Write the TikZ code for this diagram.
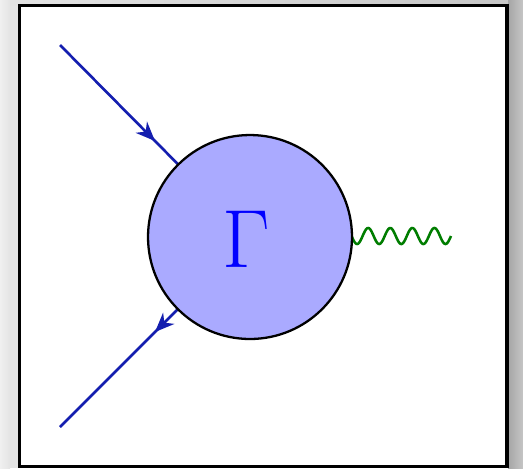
\documentclass[tikz,border=0pt]{standalone}
\usetikzlibrary{decorations.markings,arrows.meta}
\definecolor{bgcol}{RGB}{228,228,228}
\definecolor{fermcol}{RGB}{20,30,175}
\definecolor{blobcol}{RGB}{170,170,255}
\definecolor{photcol}{RGB}{0,125,0}
\tikzset{
  fermion/.style={draw=fermcol, line width=1.5pt,
    postaction={decorate},
    decoration={markings, mark=at position 0.5 with {\arrow{Stealth[length=11pt,width=9pt,inset=3.5pt]}}}},
  photon/.style={draw=photcol, line width=1.45pt},
  blobstyle/.style={circle, draw=black, line width=1.3pt, fill=blobcol,
    minimum size=4.08cm, inner sep=0pt},
  labelstyle/.style={text=blue, inner sep=0pt, font=\fontsize{47}{50}\selectfont}
}
\begin{document}
\begin{tikzpicture}[x=0.02cm,y=-0.02cm]
  \useasboundingbox (0,0) rectangle (523,468);
  % background
  \fill[bgcol] (0,0) rectangle (523,468);
  \shade[left color=bgcol, right color=gray!45] (0,0) rectangle (523,5);
  \shade[left color=gray!70, right color=gray!45] (508,0) rectangle (523,468);
  \shade[left color=gray!12, right color=bgcol] (0,0) rectangle (10,468);
  % frame
  \draw[line width=2pt, fill=white] (19.5,5.5) rectangle (507,466.5);
  % coordinates
  \coordinate (c) at (250,237);
  \coordinate (a) at (60,45);
  \coordinate (b) at (60,427);
  % lines
  \draw[fermion] (a) -- (c);
  \draw[fermion] (c) -- (b);
  \draw[photon] plot[domain=0:110.5, samples=220, smooth] ({340.5+\x}, {236 - 8*sin(16.2896*\x)});
  % blob
  \node[blobstyle] (blob) at (c) {};
  \node[labelstyle] (gam) at (246,239) {Γ};
\end{tikzpicture}
\end{document}
